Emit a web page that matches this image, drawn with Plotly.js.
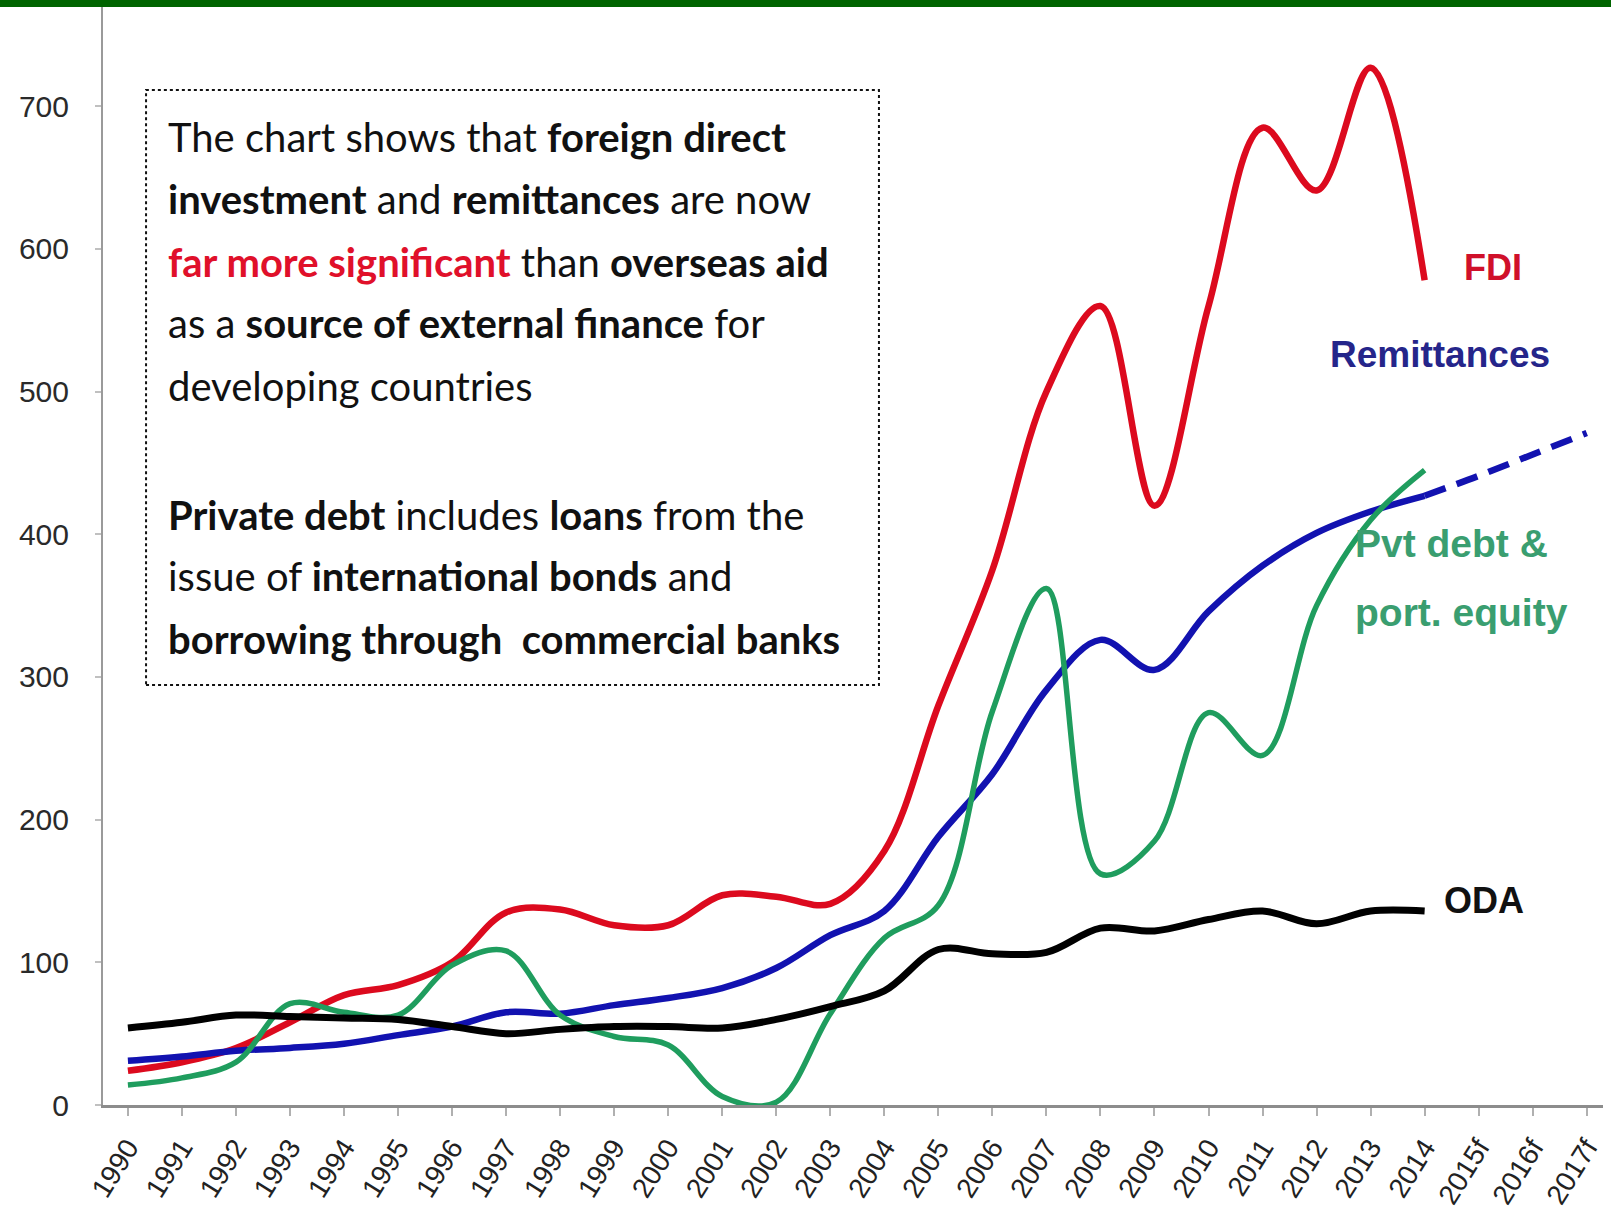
<!DOCTYPE html>
<html>
<head>
<meta charset="utf-8">
<script src="https://cdn.plot.ly/plotly-3.0.1.min.js"></script>
<style>
  html, body { margin: 0; padding: 0; background: #ffffff; }
  #chart { width: 1611px; height: 1213px; }
</style>
</head>
<body>
<div id="chart"></div>
<script>
// Categories (x axis)
const years = ['1990','1991','1992','1993','1994','1995','1996','1997','1998','1999',
               '2000','2001','2002','2003','2004','2005','2006','2007','2008','2009',
               '2010','2011','2012','2013','2014','2015f','2016f','2017f'];
const histYears = years.slice(0, 25);            // 1990 .. 2014
const forecastYears = ['2014','2015f','2016f','2017f'];

// Series values (US$ bn)
const fdi = [24, 30, 40, 58, 77, 84, 100, 135, 137, 126, 126, 147, 146, 141, 178,
             280, 375, 500, 560, 420, 560, 685, 641, 727, 578];
const remittances = [31, 34, 38, 40, 43, 49, 55, 65, 64, 70, 75, 82, 96, 119, 136,
                     188, 232, 291, 326, 305, 346, 378, 401, 416, 427];
const remittancesForecast = [427, 441, 456, 471];
const pvtDebt = [14, 19, 30, 71, 65, 63, 98, 108, 63, 48, 42, 6, 2, 64, 117,
                 140, 276, 362, 162, 185, 275, 245, 350, 410, 445];
const oda = [54, 58, 63, 62, 61, 60, 55, 50, 53, 55, 55, 54, 60, 69, 80,
             109, 106, 107, 124, 122, 130, 136, 127, 136, 136];

// Tick labels
const yTickVals = [0, 100, 200, 300, 400, 500, 600, 700];
const yTickText = ['0', '100', '200', '300', '400', '500', '600', '700'];

// Text
const boxLines = [
  "The chart shows that <b>foreign direct</b>",
  "<b>investment</b> and <b>remittances</b> are now",
  "<span style='color:#e0102a'><b>far more significant</b></span> than <b>overseas aid</b>",
  "as a <b>source of external finance</b> for",
  "developing countries",
  "<b>Private debt</b> includes <b>loans</b> from the",
  "issue of <b>international bonds</b> and",
  "<b>borrowing through  commercial banks</b>"
];
const boxLineY = [0.8816, 0.8251, 0.7678, 0.7122, 0.6548, 0.5373, 0.4818, 0.4244];

const COL_FDI = '#dc0a1e';
const COL_REM = '#1212b0';
const COL_PVT = '#1f9d5e';
const COL_ODA = '#000000';

const traces = [
  { x: histYears, y: fdi, type: 'scatter', mode: 'lines', name: 'FDI',
    line: { color: COL_FDI, width: 6.5, shape: 'spline', smoothing: 1 } },
  { x: histYears, y: remittances, type: 'scatter', mode: 'lines', name: 'Remittances',
    line: { color: COL_REM, width: 6.5, shape: 'spline', smoothing: 1 } },
  { x: forecastYears, y: remittancesForecast, type: 'scatter', mode: 'lines', name: 'Remittances (forecast)',
    line: { color: COL_REM, width: 6.5, dash: '22px,12px', shape: 'spline', smoothing: 1 } },
  { x: histYears, y: pvtDebt, type: 'scatter', mode: 'lines', name: 'Pvt debt & port. equity',
    line: { color: COL_PVT, width: 5.5, shape: 'spline', smoothing: 1 } },
  { x: histYears, y: oda, type: 'scatter', mode: 'lines', name: 'ODA',
    line: { color: COL_ODA, width: 7, shape: 'spline', smoothing: 1 } }
];

const boxFont = { family: 'Lato, "Open Sans", sans-serif', size: 40, color: '#111111' };
const annotations = boxLines.map((t, i) => ({
  xref: 'paper', yref: 'paper', x: 0.042, y: boxLineY[i],
  xanchor: 'left', yanchor: 'middle', text: t, showarrow: false,
  font: boxFont, align: 'left'
}));

const lblFont = (c, s) => ({ family: '"Liberation Sans", Arial, sans-serif', size: s, color: c, weight: 700 });
annotations.push(
  { xref: 'paper', yref: 'paper', x: 0.9267, y: 0.7623, xanchor: 'center', yanchor: 'middle',
    text: '<b>FDI</b>', showarrow: false, font: lblFont('#d0102a', 36) },
  { xref: 'paper', yref: 'paper', x: 0.8913, y: 0.6831, xanchor: 'center', yanchor: 'middle',
    text: '<b>Remittances</b>', showarrow: false, font: lblFont('#25258a', 37) },
  { xref: 'paper', yref: 'paper', x: 0.8333, y: 0.5118, xanchor: 'left', yanchor: 'middle',
    text: '<b>Pvt debt &amp;</b>', showarrow: false, font: lblFont('#3a9e70', 39) },
  { xref: 'paper', yref: 'paper', x: 0.8333, y: 0.4481, xanchor: 'left', yanchor: 'middle',
    text: '<b>port. equity</b>', showarrow: false, font: lblFont('#3a9e70', 39) },
  { xref: 'paper', yref: 'paper', x: 0.9207, y: 0.1858, xanchor: 'center', yanchor: 'middle',
    text: '<b>ODA</b>', showarrow: false, font: lblFont('#111111', 36) }
);

const layout = {
  width: 1611, height: 1213,
  paper_bgcolor: '#ffffff', plot_bgcolor: '#ffffff',
  margin: { l: 103, r: 8, t: 7, b: 108, pad: 0 },
  showlegend: false,
  xaxis: {
    type: 'category', categoryorder: 'array', categoryarray: years,
    range: [-0.461, 27.301], automargin: false,
    showline: true, linecolor: '#8c8c8c', linewidth: 3,
    ticks: 'outside', ticklen: 8, tickwidth: 2, tickcolor: '#b0b0b0',
    tickangle: -58, ticklabelstandoff: 4,
    tickfont: { family: '"Liberation Sans", Arial, sans-serif', size: 28, color: '#222222' },
    showgrid: false, zeroline: false, fixedrange: true
  },
  yaxis: {
    range: [0, 769.6], automargin: false,
    tickmode: 'array', tickvals: yTickVals, ticktext: yTickText,
    showline: true, linecolor: '#9a9a9a', linewidth: 2,
    ticks: 'outside', ticklen: 6, tickwidth: 2, tickcolor: '#c0c0c0',
    ticklabelstandoff: 20,
    tickfont: { family: '"Liberation Sans", Arial, sans-serif', size: 30, color: '#2a2a2a' },
    showgrid: false, zeroline: false, fixedrange: true
  },
  shapes: [
    { type: 'rect', xref: 'paper', yref: 'paper', x0: -0.08, x1: 1.01, y0: 1.0, y1: 1.05,
      fillcolor: '#006400', line: { width: 0 }, layer: 'above' },
    { type: 'rect', xref: 'paper', yref: 'paper', x0: 0.0287, x1: 0.5173, y0: 0.3825, y1: 0.9244,
      fillcolor: 'rgba(255,255,255,0)', line: { color: '#111111', width: 2, dash: 'dot' } }
  ],
  annotations: annotations
};

Plotly.newPlot('chart', traces, layout, { displayModeBar: false, staticPlot: true });
</script>
</body>
</html>
